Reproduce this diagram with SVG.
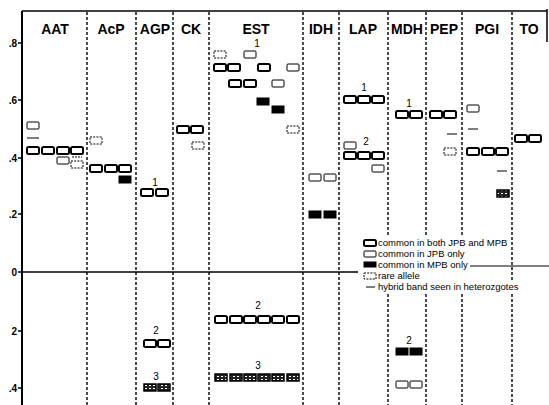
<svg xmlns="http://www.w3.org/2000/svg" width="549" height="405" viewBox="0 0 549 405">
<style>
text{font-family:"Liberation Sans",Arial,sans-serif;fill:#000}
.hd{font-size:14px;font-weight:bold;text-anchor:middle}
.ax{font-size:10px;font-weight:bold;text-anchor:end}
.num{font-size:10px;text-anchor:middle}
.lg{font-size:9.5px}
.both{fill:#fff;stroke:#000;stroke-width:2}
.jpb{fill:#fff;stroke:#000;stroke-width:1}
.mpb{fill:#000;stroke:#000;stroke-width:1}
.rare{fill:#fff;stroke:#000;stroke-width:1;stroke-dasharray:2 1.2}
.mix{fill:url(#spk);stroke:#000;stroke-width:1.5}
.hyb{stroke:#000;stroke-width:1;fill:none}
.div{stroke:#000;stroke-width:1.4;stroke-dasharray:3 2;fill:none}
.frame{stroke:#000;fill:none}
</style>
<defs>
<pattern id="spk" width="4" height="3" patternUnits="userSpaceOnUse"><rect width="4" height="3" fill="#222"/><rect x="1" y="1" width="2" height="1" fill="#fff"/></pattern>
</defs>
<rect width="549" height="405" fill="#fff"/>

<g id="connectors">
<line class="frame" x1="22" y1="11" x2="547" y2="11" stroke-width="1.5"/>
<line class="frame" x1="22" y1="11" x2="22" y2="405" stroke-width="2"/>
<line class="frame" x1="547" y1="9" x2="547" y2="42" stroke-width="1.5"/>
<line class="frame" x1="22" y1="272" x2="358" y2="272" stroke-width="1.5"/>
<line class="frame" x1="470" y1="266" x2="549" y2="266" stroke-width="1"/>
<g>
<line class="div" x1="87" y1="12" x2="87" y2="405"/>
<line class="div" x1="136" y1="12" x2="136" y2="405"/>
<line class="div" x1="173" y1="12" x2="173" y2="405"/>
<line class="div" x1="209" y1="12" x2="209" y2="405"/>
<line class="div" x1="303" y1="12" x2="303" y2="405"/>
<line class="div" x1="339" y1="12" x2="339" y2="405"/>
<line class="div" x1="388" y1="12" x2="388" y2="236"/>
<line class="div" x1="388" y1="294" x2="388" y2="405"/>
<line class="div" x1="426" y1="12" x2="426" y2="236"/>
<line class="div" x1="426" y1="294" x2="426" y2="405"/>
<line class="div" x1="462" y1="12" x2="462" y2="236"/>
<line class="div" x1="462" y1="294" x2="462" y2="405"/>
<line class="div" x1="512" y1="12" x2="512" y2="280"/>
<line class="div" x1="512" y1="294" x2="512" y2="405"/>
</g>
<g stroke="#000" stroke-width="1.5">
<line x1="18" y1="43" x2="22" y2="43"/>
<line x1="18" y1="100" x2="22" y2="100"/>
<line x1="18" y1="158" x2="22" y2="158"/>
<line x1="18" y1="214" x2="22" y2="214"/>
<line x1="18" y1="272" x2="22" y2="272"/>
<line x1="18" y1="331" x2="22" y2="331"/>
<line x1="18" y1="388" x2="22" y2="388"/>
</g>
</g>

<g id="axis-labels">
<text class="ax" x="17" y="47">.8</text>
<text class="ax" x="17" y="104">.6</text>
<text class="ax" x="17" y="162">.4</text>
<text class="ax" x="17" y="218">.2</text>
<text class="ax" x="17" y="276">0</text>
<text class="ax" x="17" y="335">2</text>
<text class="ax" x="17" y="392">.4</text>
</g>

<g id="AAT">
<text class="hd" x="55" y="34">AAT</text>
<rect class="jpb" x="27" y="122" width="12" height="7" rx="1"/>
<line class="hyb" x1="27" y1="138" x2="39" y2="138"/>
<rect class="both" x="27" y="147" width="12" height="7" rx="1.5"/>
<rect class="both" x="42" y="147" width="12" height="7" rx="1.5"/>
<rect class="both" x="57" y="147" width="12" height="7" rx="1.5"/>
<rect class="both" x="71" y="147" width="12" height="7" rx="1.5"/>
<rect class="jpb" x="57" y="157" width="12" height="7" rx="1"/>
<line class="hyb" x1="72" y1="157" x2="82" y2="157" stroke-dasharray="2 1"/>
<rect class="rare" x="71" y="161" width="12" height="7"/>
</g>

<g id="AcP">
<text class="hd" x="111" y="34">AcP</text>
<rect class="rare" x="90" y="137" width="12" height="7"/>
<rect class="both" x="90" y="165" width="12" height="7" rx="1.5"/>
<rect class="both" x="105" y="165" width="12" height="7" rx="1.5"/>
<rect class="both" x="119" y="165" width="12" height="7" rx="1.5"/>
<rect class="mpb" x="119" y="176" width="12" height="7"/>
</g>

<g id="AGP">
<text class="hd" x="155" y="34">AGP</text>
<text class="num" x="155" y="186">1</text>
<rect class="both" x="141" y="189" width="12" height="7" rx="1.5"/>
<rect class="both" x="156" y="189" width="12" height="7" rx="1.5"/>
<text class="num" x="156" y="334">2</text>
<rect class="both" x="144" y="340" width="12" height="7" rx="1.5"/>
<rect class="both" x="158" y="340" width="12" height="7" rx="1.5"/>
<text class="num" x="156" y="380">3</text>
<rect class="mix" x="144" y="384" width="12" height="7"/>
<rect class="mix" x="158" y="384" width="12" height="7"/>
</g>

<g id="CK">
<text class="hd" x="191" y="34">CK</text>
<rect class="both" x="177" y="126" width="12" height="7" rx="1.5"/>
<rect class="both" x="191" y="126" width="12" height="7" rx="1.5"/>
<rect class="rare" x="192" y="142" width="12" height="7"/>
</g>

<g id="EST">
<text class="hd" x="256" y="34">EST</text>
<text class="num" x="257" y="47">1</text>
<rect class="rare" x="214" y="51" width="12" height="7" stroke-width="1.5"/>
<rect class="jpb" x="244" y="51" width="12" height="7" rx="1"/>
<rect class="both" x="214" y="64" width="12" height="7" rx="1.5"/>
<rect class="both" x="228" y="64" width="12" height="7" rx="1.5"/>
<rect class="both" x="258" y="64" width="12" height="7" rx="1.5"/>
<rect class="jpb" x="287" y="64" width="12" height="7" rx="1"/>
<rect class="both" x="229" y="80" width="12" height="7" rx="1.5"/>
<rect class="both" x="244" y="80" width="12" height="7" rx="1.5"/>
<rect class="jpb" x="272" y="80" width="12" height="7" rx="1"/>
<rect class="mpb" x="257" y="98" width="12" height="7"/>
<rect class="mpb" x="272" y="106" width="12" height="7"/>
<rect class="rare" x="287" y="126" width="12" height="7"/>
<text class="num" x="258" y="309">2</text>
<rect class="both" x="215" y="316" width="12" height="7" rx="1.5"/>
<rect class="both" x="230" y="316" width="12" height="7" rx="1.5"/>
<rect class="both" x="244" y="316" width="12" height="7" rx="1.5"/>
<rect class="both" x="258" y="316" width="12" height="7" rx="1.5"/>
<rect class="both" x="272" y="316" width="12" height="7" rx="1.5"/>
<rect class="both" x="287" y="316" width="12" height="7" rx="1.5"/>
<text class="num" x="258" y="369">3</text>
<rect class="mix" x="215" y="374" width="12" height="7"/>
<rect class="mix" x="230" y="374" width="12" height="7"/>
<rect class="mix" x="244" y="374" width="12" height="7"/>
<rect class="mix" x="258" y="374" width="12" height="7"/>
<rect class="mix" x="272" y="374" width="12" height="7"/>
<rect class="mix" x="287" y="374" width="12" height="7"/>
</g>

<g id="IDH">
<text class="hd" x="321" y="34">IDH</text>
<rect class="jpb" x="309" y="174" width="12" height="7" rx="1"/>
<rect class="jpb" x="324" y="174" width="12" height="7" rx="1"/>
<rect class="mpb" x="309" y="211" width="12" height="7"/>
<rect class="mpb" x="324" y="211" width="12" height="7"/>
</g>

<g id="LAP">
<text class="hd" x="363" y="34">LAP</text>
<text class="num" x="364" y="91">1</text>
<rect class="both" x="344" y="96" width="12" height="7" rx="1.5"/>
<rect class="both" x="358" y="96" width="12" height="7" rx="1.5"/>
<rect class="both" x="372" y="96" width="12" height="7" rx="1.5"/>
<rect class="jpb" x="344" y="142" width="12" height="7" rx="1"/>
<text class="num" x="366" y="145">2</text>
<rect class="both" x="344" y="152" width="12" height="7" rx="1.5"/>
<rect class="both" x="358" y="152" width="12" height="7" rx="1.5"/>
<rect class="both" x="372" y="152" width="12" height="7" rx="1.5"/>
<rect class="jpb" x="372" y="165" width="12" height="7" rx="1"/>
</g>

<g id="MDH">
<text class="hd" x="407" y="34">MDH</text>
<text class="num" x="409" y="107">1</text>
<rect class="both" x="396" y="111" width="12" height="7" rx="1.5"/>
<rect class="both" x="410" y="111" width="12" height="7" rx="1.5"/>
<text class="num" x="409" y="344">2</text>
<rect class="mpb" x="396" y="348" width="12" height="7"/>
<rect class="mpb" x="410" y="348" width="12" height="7"/>
<rect class="jpb" x="396" y="381" width="12" height="7" rx="1"/>
<rect class="jpb" x="410" y="381" width="12" height="7" rx="1"/>
</g>

<g id="PEP">
<text class="hd" x="444" y="34">PEP</text>
<rect class="both" x="430" y="111" width="12" height="7" rx="1.5"/>
<rect class="both" x="444" y="111" width="12" height="7" rx="1.5"/>
<line class="hyb" x1="447" y1="134" x2="457" y2="134"/>
<rect class="rare" x="444" y="148" width="12" height="7"/>
</g>

<g id="PGI">
<text class="hd" x="487" y="34">PGI</text>
<rect class="jpb" x="467" y="105" width="12" height="7" rx="1"/>
<line class="hyb" x1="468" y1="129" x2="478" y2="129"/>
<rect class="both" x="467" y="148" width="12" height="7" rx="1.5"/>
<rect class="both" x="482" y="148" width="12" height="7" rx="1.5"/>
<rect class="both" x="496" y="148" width="12" height="7" rx="1.5"/>
<line class="hyb" x1="497" y1="171" x2="507" y2="171"/>
<rect class="mix" x="497" y="190" width="12" height="7"/>
</g>

<g id="TO">
<text class="hd" x="529" y="34">TO</text>
<rect class="both" x="515" y="135" width="12" height="7" rx="1.5"/>
<rect class="both" x="529" y="135" width="12" height="7" rx="1.5"/>
</g>

<g id="legend">
<rect class="both" x="364" y="240" width="12" height="6" rx="1.5"/>
<text class="lg" x="378" y="246">common in both JPB and MPB</text>
<rect class="jpb" x="364" y="251" width="12" height="6" rx="1"/>
<text class="lg" x="378" y="257">common in JPB only</text>
<rect class="mpb" x="364" y="262" width="12" height="5"/>
<text class="lg" x="378" y="268">common in MPB only</text>
<rect class="rare" x="364" y="273" width="12" height="6"/>
<text class="lg" x="378" y="279">rare allele</text>
<line class="hyb" x1="366" y1="287" x2="375" y2="287"/>
<text class="lg" x="378" y="290">hybrid band seen in heterozgotes</text>
</g>
</svg>
